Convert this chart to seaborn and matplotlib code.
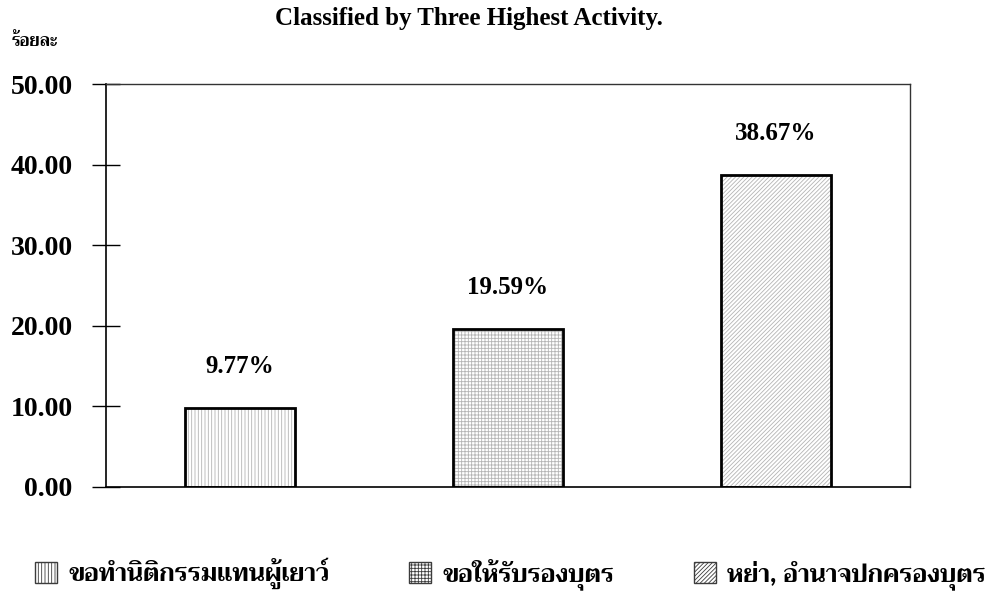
import seaborn as sns
import matplotlib.pyplot as plt
import pandas as pd
from matplotlib import font_manager
from matplotlib.ft2font import FT2Font
from matplotlib.patches import Patch

# data
activities = ['ขอทำนิติกรรมแทนผู้เยาว์', 'ขอให้รับรองบุตร', 'หย่า, อำนาจปกครองบุตร']
percents = [9.77, 19.59, 38.67]
hatches = ['|||||', '+++++', '////////']
y_ticks = [0, 10, 20, 30, 40, 50]

df = pd.DataFrame({'activity': activities, 'percent': percents})


def find_thai_font():
    # look for any installed font that has Thai glyphs, bold first
    found = []
    for f in font_manager.fontManager.ttflist:
        try:
            cmap = FT2Font(f.fname).get_charmap()
        except Exception:
            continue
        if 0x0E01 in cmap and 0x0E33 in cmap:
            w = f.weight if isinstance(f.weight, int) else 400
            found.append((w >= 600, f.name))
    if not found:
        return None
    found.sort(reverse=True)
    return found[0][1]


thai = find_thai_font()
sns.set_theme(style='white')
plt.rcParams['font.family'] = ['Liberation Serif', 'DejaVu Serif']
plt.rcParams['text.color'] = 'black'
plt.rcParams['ytick.color'] = 'black'
plt.rcParams['hatch.linewidth'] = 0.6
thai_family = [thai, 'DejaVu Sans'] if thai else ['DejaVu Sans']

fig = plt.figure(figsize=(10.02, 5.92), dpi=100)
ax = fig.add_axes([0.1058, 0.1774, 0.8024, 0.6807])

# hatch layer, then black outline on top
sns.barplot(data=df, x='activity', y='percent', width=0.41, color='white',
            edgecolor='#b4b4b4', linewidth=0, ax=ax)
for bar, h in zip(ax.patches, hatches):
    bar.set_hatch(h)
sns.barplot(data=df, x='activity', y='percent', width=0.41, fill=False,
            edgecolor='black', linewidth=2, ax=ax)

for i, v in enumerate(percents):
    ax.annotate(f'{v:.2f}%', (i, v), xytext=(0, 30), textcoords='offset points',
                ha='center', va='center', fontsize=18, fontweight='bold')

ax.set_xlim(-0.5, 2.5)
ax.set_ylim(0, 50)
ax.set_yticks(y_ticks)
ax.set_yticklabels([f'{t:.2f}' for t in y_ticks], fontsize=20, fontweight='bold')
ax.set_xticks([])
ax.set_xlabel('')
ax.set_ylabel('')
ax.tick_params(axis='y', direction='inout', length=20, width=1, color='black',
               labelcolor='black', pad=14, left=True)
for side in ['left', 'bottom']:
    ax.spines[side].set_color('black')
    ax.spines[side].set_linewidth(1.2)
for side in ['top', 'right']:
    ax.spines[side].set_color('#333333')
    ax.spines[side].set_linewidth(1)

fig.text(0.468, 0.968, 'Classified by Three Highest Activity.', ha='center',
         va='center', fontsize=18, fontweight='bold')
fig.text(0.012, 0.93, 'ร้อยละ', ha='left', va='center', fontsize=12,
         fontweight='bold', family=thai_family)

handles = [Patch(facecolor='white', edgecolor='#3c3c3c', hatch=h, linewidth=1)
           for h in hatches]
fig.legend(handles, activities, loc='center left', bbox_to_anchor=(0.035, 0.031),
           ncol=3, frameon=False, borderpad=0, borderaxespad=0,
           handlelength=0.88, handleheight=0.88, handletextpad=0.44,
           columnspacing=3.2,
           prop={'family': thai_family, 'size': 18, 'weight': 'bold'})

fig.savefig('out.png', dpi=100)
